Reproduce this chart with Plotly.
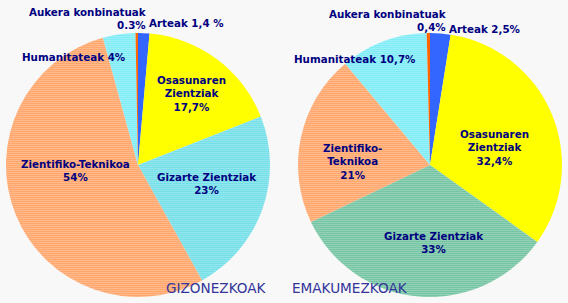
import plotly.graph_objects as go

categories = ["Arteak", "Osasunaren Zientziak", "Gizarte Zientziak",
              "Zientifiko-Teknikoa", "Humanitateak", "Aukera konbinatuak"]
men_values = [1.4, 17.7, 23, 54, 4, 0.3]
women_values = [2.5, 32.4, 33, 21, 10.7, 0.4]

men_labels = ["Arteak 1,4 %", "Osasunaren<br>Zientziak<br>17,7%", "Gizarte Zientziak<br>23%",
              "Zientifiko-Teknikoa<br>54%", "Humanitateak 4%", "Aukera konbinatuak<br>0.3%"]
women_labels = ["Arteak 2,5%", "Osasunaren<br>Zientziak<br>32,4%", "Gizarte Zientziak<br>33%",
                "Zientifiko-<br>Teknikoa<br>21%", "Humanitateak 10,7%", "Aukera konbinatuak<br>0,4%"]
titles = ["GIZONEZKOAK", "EMAKUMEZKOAK"]

W, H = 568, 303
NAVY = "#000080"

men_fg = ["#3366ff", "#ffff00", "#10c8d8", "#ff6600", "#22e0f0", "#ff6600"]
women_fg = ["#3366ff", "#ffff00", "#109a60", "#ff6600", "#22e0f0", "#ff6600"]
shapes = ["", "", ".", ".", ".", ""]

def pie(values, fg, cx, cy, r):
    return go.Pie(
        labels=categories, values=values, sort=False, direction="clockwise",
        rotation=0, textinfo="none", hoverinfo="label+value", showlegend=False,
        marker=dict(colors=fg, line=dict(width=0),
                    pattern=dict(shape=shapes, fgcolor=fg, bgcolor="white",
                                 size=2, solidity=0.6)),
        domain=dict(x=[(cx - r) / W, (cx + r) / W], y=[(H - cy - r) / H, (H - cy + r) / H]),
    )

fig = go.Figure()
fig.add_trace(pie(men_values, men_fg, 138, 165, 132))
fig.add_trace(pie(women_values, women_fg, 430, 165, 132))

# label anchor positions (px): x, y, xanchor, align
men_pos = [(147, 23, "left", "left"), (191, 93, "center", "center"), (207, 183, "center", "center"),
           (75, 170, "center", "center"), (20, 57, "left", "left"), (149, 19, "right", "right")]
women_pos = [(447, 29, "left", "left"), (494, 147, "center", "center"), (434, 242, "center", "center"),
             (352, 161, "center", "center"), (292, 59, "left", "left"), (449, 20, "right", "right")]

anns = []
for labels, pos in ((men_labels, men_pos), (women_labels, women_pos)):
    for t, (x, y, xa, al) in zip(labels, pos):
        anns.append(dict(x=x / W, y=1 - y / H, xref="paper", yref="paper", text="<b>" + t + "</b>",
                         showarrow=False, xanchor=xa, yanchor="middle", align=al,
                         font=dict(family="DejaVu Sans", size=10.3, color=NAVY)))

for t, x in zip(titles, (216, 350)):
    anns.append(dict(x=x / W, y=1 - 288 / H, xref="paper", yref="paper", text=t, showarrow=False,
                     xanchor="center", yanchor="middle",
                     font=dict(family="DejaVu Sans", size=13.6, color="#333399")))

fig.update_layout(width=W, height=H, margin=dict(l=0, r=0, t=0, b=0),
                  paper_bgcolor="#f8f8f8", plot_bgcolor="#f8f8f8", annotations=anns)
fig.write_html("out.html")
